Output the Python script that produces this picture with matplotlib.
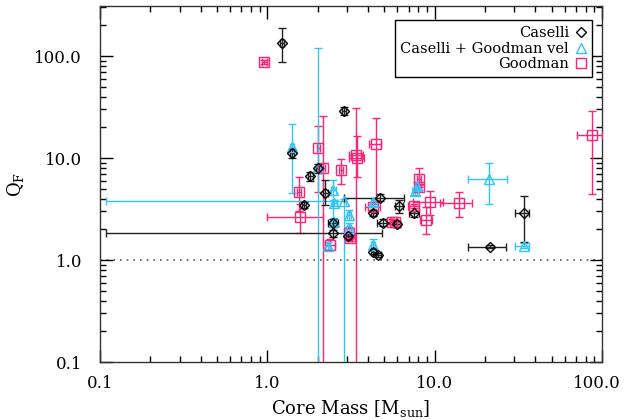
import matplotlib
matplotlib.use("Agg")
import matplotlib.pyplot as plt
import matplotlib.transforms as mtransforms
from matplotlib.lines import Line2D
import numpy as np

plt.rcParams['font.family'] = ['DejaVu Serif']
plt.rcParams['mathtext.fontset'] = 'dejavuserif'

BLACK = '#000000'
CYAN = '#33c4f5'
PINK = '#ff2277'

# Caselli: x, y and the ends of the error bars (absolute values)
cas_x = [1.22, 2.86, 1.41, 1.80, 2.00, 2.22, 1.66, 4.72, 2.48, 2.48,
         6.12, 4.30, 4.94, 6.00, 4.30, 4.61, 3.05, 7.53, 21.5, 34.2]
cas_y = [134, 29.0, 11.1, 6.66, 8.0, 4.5, 3.46, 4.08, 1.83, 2.32,
         3.38, 2.90, 2.32, 2.24, 1.21, 1.12, 1.72, 2.86, 1.35, 2.91]
cas_xlo = [1.19, 2.78, 1.37, 1.74, 1.95, 2.15, 1.62, 2.87, 0.109, 2.30,
           5.80, 4.15, 4.50, 5.75, 4.15, 4.45, 2.95, 7.00, 15.9, 30.2]
cas_xhi = [1.26, 2.95, 1.45, 1.88, 2.05, 2.30, 1.70, 6.59, 4.86, 2.65,
           6.50, 4.45, 5.40, 6.25, 4.45, 4.80, 3.15, 8.10, 26.8, 36.7]
cas_ylo = [87, 26.5, 9.9, 6.0, 7.2, 3.5, 3.2, 3.75, 1.70, 2.10,
           2.90, 2.70, 2.15, 2.10, 1.15, 1.06, 1.60, 2.65, 1.30, 1.51]
cas_yhi = [188, 31.5, 12.3, 7.3, 8.8, 6.1, 3.7, 4.45, 1.98, 2.55,
           3.90, 3.10, 2.50, 2.40, 1.28, 1.18, 1.85, 3.05, 1.40, 4.28]

# Caselli + Goodman vel
cgv_x = [1.41, 2.00, 2.86, 2.48, 2.52, 2.50, 2.30, 3.08, 3.08, 4.27,
         4.27, 7.90, 7.60, 21.2, 34.2]
cgv_y = [12.9, 8.2, 3.82, 4.85, 3.65, 2.35, 1.37, 2.76, 2.05, 3.72,
         1.40, 5.30, 4.70, 6.18, 1.38]
cgv_xlo = [1.37, 1.95, 0.109, 2.40, 2.45, 2.42, 2.22, 3.00, 3.00, 4.15,
           4.15, 7.70, 7.40, 15.9, 30.2]
cgv_xhi = [1.45, 2.05, 2.95, 2.56, 2.60, 2.58, 2.38, 3.16, 3.16, 4.40,
           4.40, 8.10, 7.80, 27.0, 36.7]
cgv_ylo = [4.5, 0.01, 0.01, 2.4, 3.4, 2.1, 1.25, 2.45, 1.85, 3.40,
           1.25, 4.90, 4.30, 3.55, 1.30]
cgv_yhi = [21.4, 120, 4.0, 6.1, 3.9, 2.6, 1.50, 3.10, 2.30, 4.10,
           1.60, 5.80, 5.10, 8.87, 1.47]

# Goodman
goo_x = [0.96, 1.55, 1.57, 2.02, 2.16, 2.37, 2.76, 3.40, 3.45, 4.45,
         3.08, 3.12, 4.27, 5.54, 5.80, 8.07, 8.10, 7.53, 9.39, 8.85,
         14.0, 86.9]
goo_y = [87.9, 4.6, 2.66, 12.6, 8.03, 1.40, 7.6, 10.7, 10.0, 13.6,
         1.83, 1.64, 3.33, 2.37, 2.35, 6.18, 5.16, 3.38, 3.73, 2.47,
         3.6, 16.8]
goo_xlo = [0.93, 1.50, 1.00, 1.97, 2.10, 2.20, 2.68, 3.10, 3.10, 4.07,
           3.00, 3.05, 3.85, 5.20, 5.60, 7.90, 7.90, 6.90, 7.40, 8.20,
           10.8, 70.6]
goo_xhi = [0.99, 1.60, 2.14, 2.07, 2.22, 2.55, 2.84, 3.75, 3.80, 4.80,
           3.16, 3.20, 4.70, 5.90, 6.00, 8.25, 8.30, 8.10, 11.2, 9.60,
           16.8, 100]
goo_ylo = [84, 3.0, 1.86, 4.68, 0.01, 1.25, 5.6, 0.01, 6.5, 3.9,
           1.60, 1.55, 3.10, 2.25, 2.25, 5.20, 4.90, 3.20, 2.76, 1.79,
           2.63, 4.4]
goo_yhi = [92, 6.55, 3.55, 20.7, 26.0, 1.60, 9.8, 31.0, 16.5, 24.5,
           2.10, 1.75, 3.55, 2.50, 2.45, 8.00, 5.40, 3.55, 4.77, 3.34,
           4.6, 28.9]


def draw(ax, x, y, xlo, xhi, ylo, yhi, marker, color, ms, ecolor):
    x = np.array(x); y = np.array(y)
    xerr = [x - np.array(xlo), np.array(xhi) - x]
    yerr = [y - np.array(ylo), np.array(yhi) - y]
    ax.errorbar(x, y, xerr=xerr, yerr=yerr, fmt=marker, mfc='none',
                mec=color, ms=ms, mew=1.0, ecolor=ecolor, elinewidth=1.0,
                capsize=3, capthick=1.0, zorder=3)


fig = plt.figure(figsize=(6.25, 4.2), dpi=100)
ax = fig.add_axes([0.16, 0.138, 0.803, 0.848])

ax.set_xscale('log')
ax.set_yscale('log')

draw(ax, goo_x, goo_y, goo_xlo, goo_xhi, goo_ylo, goo_yhi, 's', PINK, 7, PINK)
draw(ax, cgv_x, cgv_y, cgv_xlo, cgv_xhi, cgv_ylo, cgv_yhi, '^', CYAN, 7, CYAN)
draw(ax, cas_x, cas_y, cas_xlo, cas_xhi, cas_ylo, cas_yhi, 'D', BLACK, 5.5, '#222222')

ax.axhline(1.0, color='#555555', ls=(0, (1, 3)), lw=1.2, zorder=1)

ax.set_xlim(0.1, 100)
ax.set_ylim(0.1, 310)
ticks = [0.1, 1.0, 10.0, 100.0]
labels = ['0.1', '1.0', '10.0', '100.0']
ax.set_xticks(ticks)
ax.set_xticklabels(labels)
ax.set_yticks(ticks)
ax.set_yticklabels(labels)
ax.tick_params(which='both', direction='in', top=True, right=True,
               labelsize=12, width=1.0)
ax.tick_params(which='major', length=9)
ax.tick_params(axis='x', which='major', pad=9)
ax.tick_params(axis='y', which='major', pad=13)
ax.tick_params(which='minor', length=4.5)
for s in ax.spines.values():
    s.set_linewidth(1.0)
    s.set_color('#333333')

# keep the last x tick label inside the figure
last = ax.get_xticklabels()[-1]
last.set_transform(last.get_transform() +
                   mtransforms.ScaledTranslation(-4 / 72, 0, fig.dpi_scale_trans))

ax.set_xlabel(r'Core Mass [M$_{\rm sun}$]', fontsize=13, labelpad=5)
ax.set_ylabel(r'Q$_{\rm F}$', fontsize=13, labelpad=6)

handles = [
    Line2D([], [], ls='none', marker='D', mfc='none', mec=BLACK, ms=5.5),
    Line2D([], [], ls='none', marker='^', mfc='none', mec=CYAN, ms=7),
    Line2D([], [], ls='none', marker='s', mfc='none', mec=PINK, ms=7),
]
leg = ax.legend(handles, ['Caselli', 'Caselli + Goodman vel', 'Goodman'],
                loc='upper right', bbox_to_anchor=(0.981, 0.959),
                markerfirst=False, fontsize=10.5, handlelength=0.8,
                handletextpad=0.4, labelspacing=0.1, borderpad=0.4,
                fancybox=False, framealpha=1, edgecolor='black',
                borderaxespad=0)
leg.get_frame().set_linewidth(1.0)

fig.savefig('out.png', dpi=100)
